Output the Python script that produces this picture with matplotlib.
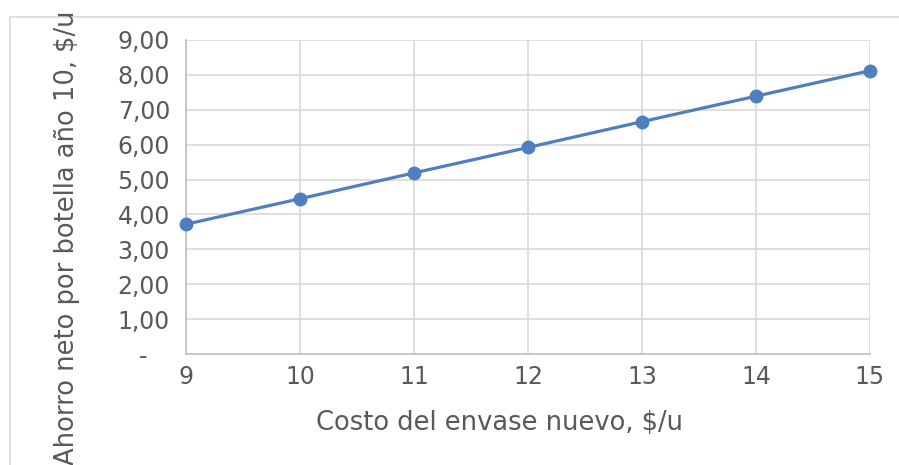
import matplotlib
matplotlib.use("Agg")
from matplotlib import pyplot as plt
from matplotlib.patches import Rectangle
from matplotlib.ticker import FuncFormatter

# Datos
costo_envase = [9, 10, 11, 12, 13, 14, 15]
ahorro_neto = [3.72, 4.45, 5.19, 5.92, 6.66, 7.39, 8.12]
y_ticks = [0, 1, 2, 3, 4, 5, 6, 7, 8, 9]

azul = "#4F7FBF"
gris_texto = "#595959"
gris_rejilla = "#D9D9D9"

plt.rcParams["font.family"] = ["DejaVu Sans"]

fig = plt.figure(figsize=(8.99, 4.65), dpi=100)

# Borde del área del gráfico (sale del recorte de la imagen)
fig.patches.append(
    Rectangle((10 / 899, -0.05), 1.0, 1 - 17 / 465 + 0.05,
              transform=fig.transFigure, fill=False,
              edgecolor=gris_rejilla, linewidth=1.2)
)

ax = fig.add_axes([186 / 899, 1 - 354 / 465, (870 - 186) / 899, (354 - 40) / 465])

ax.plot(costo_envase, ahorro_neto, color=azul, linewidth=2.3,
        marker="o", markersize=9, zorder=3, clip_on=False)

ax.set_xlim(9, 15)
ax.set_ylim(0, 9)
ax.set_xticks(costo_envase)
ax.set_yticks(y_ticks)


def formato_y(v, pos):
    if v == 0:
        return "-   "
    return f"{v:.2f}".replace(".", ",")


ax.yaxis.set_major_formatter(FuncFormatter(formato_y))

ax.grid(True, color=gris_rejilla, linewidth=1.2)
ax.set_axisbelow(True)
for lado in ["top", "right"]:
    ax.spines[lado].set_visible(False)
ax.spines["left"].set_color("#BFBFBF")
ax.spines["bottom"].set_color("#BFBFBF")
ax.spines["left"].set_linewidth(1.2)
ax.spines["bottom"].set_linewidth(1.2)

ax.tick_params(axis="both", length=0, labelsize=17, colors=gris_texto)
ax.tick_params(axis="y", pad=11.5)
ax.tick_params(axis="x", pad=8)

fig.text(500 / 899, 1 - 423 / 465, "Costo del envase nuevo, $/u",
         ha="center", va="center", fontsize=18.5, color=gris_texto)
fig.text(67 / 899, 1 - 238 / 465, "Ahorro neto por botella año 10, $/u",
         rotation=90, ha="center", va="center", fontsize=18.5, color=gris_texto)

fig.savefig("out.png", dpi=100)
